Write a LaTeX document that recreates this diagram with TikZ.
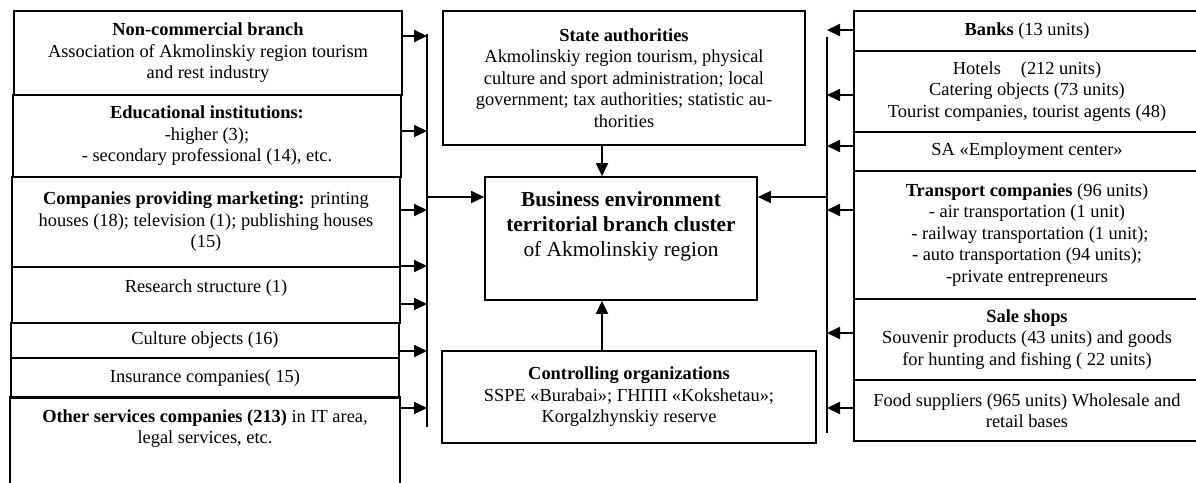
\documentclass[tikz,border=0pt]{standalone}
\usepackage{fontspec}
\setmainfont{Liberation Serif}
\usetikzlibrary{arrows.meta}

\begin{document}
\begin{tikzpicture}[x=1pt, y=-1pt,
    box/.style={draw, line width=1.7pt, align=center, inner sep=2pt,
        font=\fontsize{18.4}{21.5}\selectfont},
    lbox/.style={box, minimum width=388pt},
    rbox/.style={box, minimum width=346pt},
    arr/.style={line width=1.8pt, -{Triangle[length=13pt, width=12pt]}},
    bus/.style={line width=1.6pt}]
    \clip (0,0) rectangle (1196,482);

    % Left column
    \node[lbox, minimum height=84pt] (nc) at (208,53)
        {\textbf{Non-commercial branch}\\Association of Akmolinskiy region tourism\\and rest industry};
    \node[lbox, minimum height=82pt] (edu) at (207,136)
        {\textbf{Educational institutions:}\\-higher (3);\\- secondary professional (14), etc.};
    \node[lbox, minimum height=90pt] (mkt) at (206,222)
        {\textbf{Companies providing marketing:} printing\\houses (18); television (1); publishing houses\\(15)};
    \node[lbox, minimum height=56pt, text depth=17.5pt] (res) at (206,295)
        {Research structure (1)};
    \node[lbox, minimum height=35pt] (cult) at (205,340.5) {Culture objects (16)};
    \node[lbox, minimum height=40pt] (ins) at (205,378) {Insurance companies( 15)};
    \node[lbox, draw=none, minimum height=84pt, text depth=27pt] (oth) at (205,440)
        {\textbf{Other services companies (213)} in IT area,\\legal services, etc.};
    \draw[line width=1.7pt] (oth.south west) -- (oth.north west) -- (oth.north east) -- (oth.south east);

    % Centre
    \node[box, minimum width=362pt, minimum height=134pt] (state) at (624,78)
        {\textbf{State authorities}\\Akmolinskiy region tourism, physical\\culture and sport administration; local\\government; tax authorities; statistic au-\\thorities};
    \node[box, minimum width=272pt, minimum height=123pt, text depth=29.5pt,
        font=\fontsize{21.4}{25}\selectfont] (cen) at (621,238.5)
        {\textbf{Business environment}\\\textbf{territorial branch cluster}\\of Akmolinskiy region};
    \node[box, minimum width=374pt, minimum height=92pt] (ctrl) at (629,397)
        {\textbf{Controlling organizations}\\SSPE «Burabai»; ГНПП «Kokshetau»;\\Korgalzhynskiy reserve};

    % Right column
    \node[rbox, minimum height=40pt] (banks) at (1027,31) {\textbf{Banks} (13 units)};
    \node[rbox, minimum height=81pt] (hotels) at (1027,91.5)
        {Hotels\hspace{20pt}(212 units)\\Catering objects (73 units)\\Tourist companies, tourist agents (48)};
    \node[rbox, minimum height=39pt] (sa) at (1027,151.5) {SA «Employment center»};
    \node[rbox, minimum height=128pt] (trans) at (1027,235)
        {\textbf{Transport companies} (96 units)\\- air transportation (1 unit)\\\hspace*{6pt}- railway transportation (1 unit);\\- auto transportation (94 units);\\-private entrepreneurs};
    \node[rbox, minimum height=81pt] (sale) at (1027,339.5)
        {\textbf{Sale shops}\\Souvenir products (43 units) and goods\\for hunting and fishing ( 22 units)};
    \node[rbox, minimum height=61pt] (food) at (1027,410.5)
        {Food suppliers (965 units) Wholesale and\\retail bases};

    % Collecting lines
    \coordinate (lbusT) at (427,34);
    \coordinate (lbusB) at (427,427);
    \coordinate (rbusT) at (827,37);
    \coordinate (rbusB) at (827,433);
    \draw[bus] (lbusT) -- (lbusB);
    \draw[bus] (rbusT) -- (rbusB);

    % Arrows into the collecting lines
    \foreach \n/\dy in {nc/17, edu/5, mkt/12, res/29, res/-9, cult/-10.5, oth/32}
        \draw[arr] ([yshift=\dy pt]\n.east) -- ([yshift=\dy pt]\n.east -| lbusT);
    \foreach \n/\dy in {banks/1, hotels/-3.5, sa/5.5, trans/25, sale/6.5, food/2.5}
        \draw[arr] ([yshift=\dy pt]\n.west) -- ([yshift=\dy pt]\n.west -| rbusT);

    % Arrows into the cluster
    \draw[arr] ([yshift=41.5pt]cen.west -| lbusT) -- ([yshift=41.5pt]cen.west);
    \draw[arr] ([yshift=41.5pt]cen.east -| rbusT) -- ([yshift=41.5pt]cen.east);
    \draw[arr] ([xshift=-19pt]cen.north |- state.south) -- ([xshift=-19pt]cen.north);
    \draw[arr] ([xshift=-19pt]cen.south |- ctrl.north) -- ([xshift=-19pt]cen.south);
\end{tikzpicture}
\end{document}
